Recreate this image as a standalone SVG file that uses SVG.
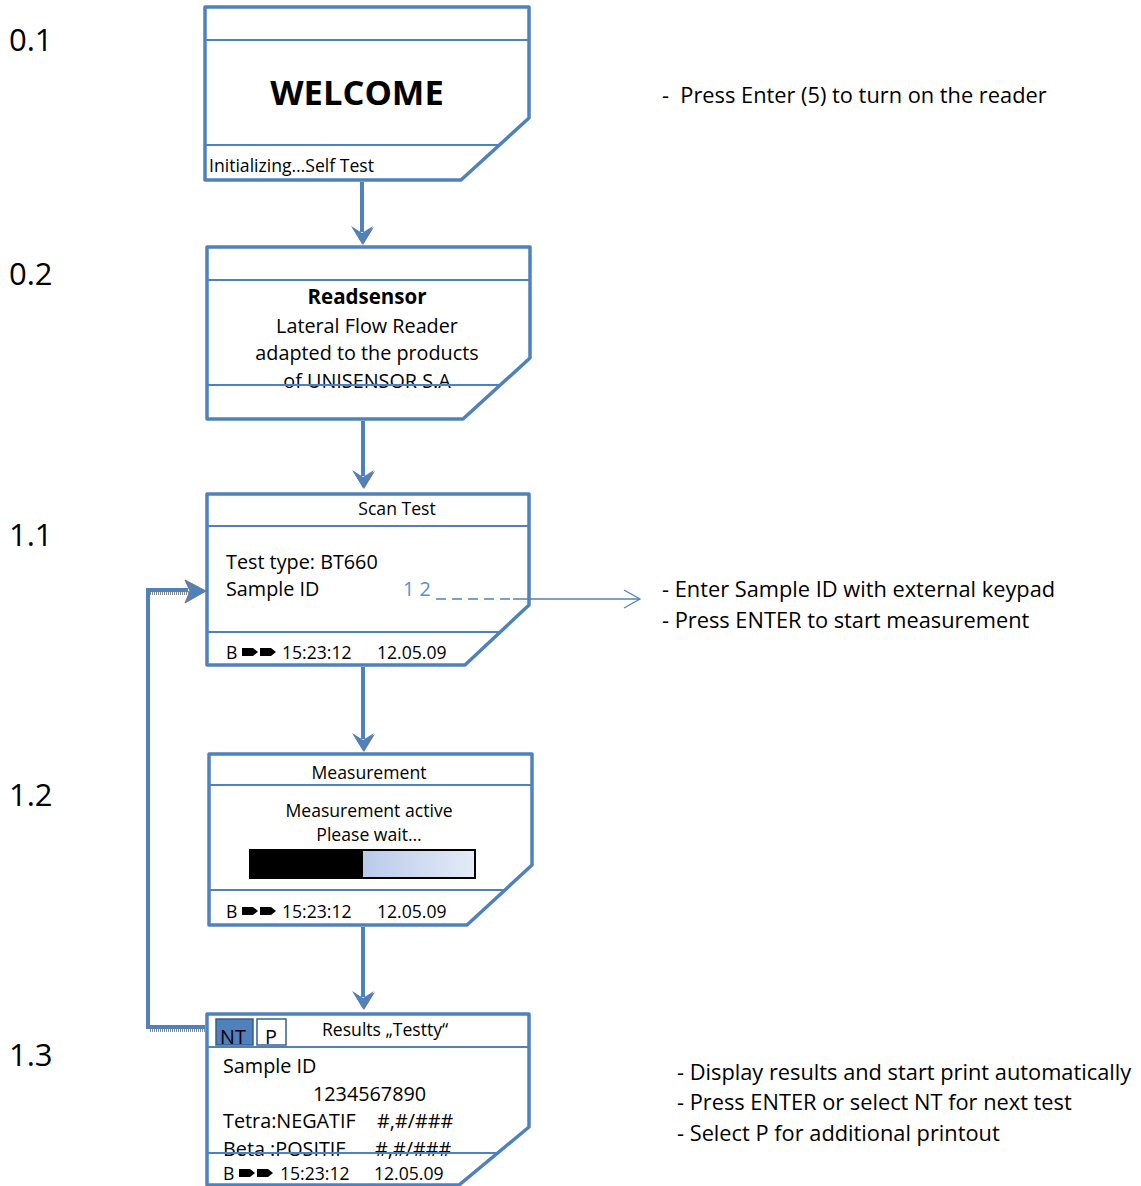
<svg xmlns="http://www.w3.org/2000/svg" width="1141" height="1186" viewBox="0 0 1141 1186">
<defs>
<linearGradient id="bar" x1="0" y1="0" x2="1" y2="0">
<stop offset="0" stop-color="#b9cbeb"/>
<stop offset="1" stop-color="#e4ebf7"/>
</linearGradient>
<polygon id="tag" points="0,0 11,0 16,4 11,8 0,8"/>
<g id="downhead">
<polygon points="1,1 -10,-17 1,-10 12,-17" fill="#777"/>
<polygon points="0,0 -11,-18 0,-11 11,-18" fill="#4f81bd"/>
</g>
</defs>
<style>
text{font-family:"Open Sans","Liberation Sans",sans-serif;fill:#000}
.frame{fill:#fff;stroke:#4f81bd;stroke-width:3.5;stroke-linejoin:round}
.div{stroke:#4f81bd;stroke-width:2;fill:none}
.lbl{font-size:31px}
.note{font-size:21.8px}
.t19{font-size:19.8px}
.t17{font-size:17.6px}
.conn{stroke:#4f81bd;stroke-width:4;fill:none}
.shadow{stroke:#888;stroke-width:4;fill:none;stroke-dasharray:1 1}
</style>

<g id="step-labels">
<text class="lbl" x="9" y="51">0.1</text>
<text class="lbl" x="9" y="285">0.2</text>
<text class="lbl" x="9" y="546">1.1</text>
<text class="lbl" x="9" y="806">1.2</text>
<text class="lbl" x="9" y="1066">1.3</text>
</g>

<g id="node-0-1">
<path class="frame" d="M205,7 H529 V118 L461,180 H205 Z"/>
<line class="div" x1="205" y1="40" x2="529" y2="40"/>
<line class="div" x1="205" y1="145" x2="499" y2="145"/>
<text x="357" y="105" font-size="34.5" font-weight="bold" text-anchor="middle">WELCOME</text>
<text class="t17" x="209" y="172">Initializing…Self Test</text>
</g>

<g id="node-0-2">
<path class="frame" d="M207,247 H530 V358 L463,419 H207 Z"/>
<line class="div" x1="207" y1="280" x2="530" y2="280"/>
<text x="367" y="304" font-size="20.5" text-anchor="middle" font-weight="bold">Readsensor</text>
<text class="t19" x="367" y="333" text-anchor="middle">Lateral Flow Reader</text>
<text class="t19" x="367" y="360" text-anchor="middle">adapted to the products</text>
<text class="t19" x="367" y="388" text-anchor="middle">of UNISENSOR S.A</text>
<line class="div" x1="207" y1="385" x2="500" y2="385"/>
</g>

<g id="node-1-1">
<path class="frame" d="M207,494 H529 V605 L465,665 H207 Z"/>
<line class="div" x1="207" y1="526" x2="529" y2="526"/>
<line class="div" x1="207" y1="632" x2="500" y2="632"/>
<text class="t17" x="397" y="515" text-anchor="middle">Scan Test</text>
<text class="t19" x="226" y="569">Test type: BT660</text>
<text class="t19" x="226" y="596">Sample ID</text>
<text class="t19" x="403" y="596" style="fill:#5b8ed6">1 2</text>
<text class="t17" x="226" y="659">B</text>
<use href="#tag" x="242" y="648"/>
<use href="#tag" x="260" y="648"/>
<text class="t17" x="282" y="659">15:23:12</text>
<text class="t17" x="377" y="659">12.05.09</text>
</g>

<g id="node-1-2">
<path class="frame" d="M209,754 H532 V865 L467,925 H209 Z"/>
<line class="div" x1="209" y1="785" x2="532" y2="785"/>
<line class="div" x1="209" y1="890" x2="505" y2="890"/>
<text class="t17" x="369" y="779" text-anchor="middle">Measurement</text>
<text class="t17" x="369" y="817" text-anchor="middle">Measurement active</text>
<text class="t17" x="369" y="841" text-anchor="middle">Please wait…</text>
<rect x="363" y="850" width="112" height="28" fill="url(#bar)"/>
<rect x="250" y="850" width="113" height="28" fill="#000"/>
<rect x="250" y="850" width="225" height="28" fill="none" stroke="#000" stroke-width="2"/>
<text class="t17" x="226" y="918">B</text>
<use href="#tag" x="242" y="907"/>
<use href="#tag" x="260" y="907"/>
<text class="t17" x="282" y="918">15:23:12</text>
<text class="t17" x="377" y="918">12.05.09</text>
</g>

<g id="node-1-3">
<path class="frame" d="M207,1014 H529 V1127 L459,1185 H207 Z"/>
<line class="div" x1="207" y1="1047" x2="529" y2="1047"/>
<rect x="216" y="1019" width="37" height="26" fill="#4f81bd" stroke="#385d8a" stroke-width="1.5"/>
<rect x="257" y="1019" width="29" height="26" fill="#fff" stroke="#385d8a" stroke-width="1.5"/>
<text class="t19" x="220" y="1044">NT</text>
<text class="t19" x="265" y="1044">P</text>
<text class="t17" x="322" y="1036">Results „Testty“</text>
<text class="t19" x="223" y="1073">Sample ID</text>
<text class="t19" x="313" y="1101">1234567890</text>
<text class="t19" x="223" y="1128">Tetra:NEGATIF</text>
<text class="t19" x="377" y="1128">#,#/###</text>
<text class="t19" x="223" y="1156">Beta :POSITIF</text>
<text class="t19" x="375" y="1156">#,#/###</text>
<line class="div" x1="207" y1="1153" x2="498" y2="1153"/>
<text class="t17" x="223" y="1180">B</text>
<use href="#tag" x="239" y="1169"/>
<use href="#tag" x="257" y="1169"/>
<text class="t17" x="280" y="1180">15:23:12</text>
<text class="t17" x="374" y="1180">12.05.09</text>
</g>

<g id="connectors">
<line class="conn" x1="362" y1="182" x2="362" y2="232"/>
<use href="#downhead" x="362" y="244"/>
<line class="conn" x1="363" y1="421" x2="363" y2="476"/>
<use href="#downhead" x="363" y="488"/>
<line class="conn" x1="363" y1="667" x2="363" y2="739"/>
<use href="#downhead" x="363" y="751"/>
<line class="conn" x1="363" y1="927" x2="363" y2="997"/>
<use href="#downhead" x="363" y="1009"/>
<polyline class="shadow" points="205,1030 150,1030"/>
<polyline class="shadow" points="150,593 190,593"/>
<polyline class="conn" points="205,1027 148,1027 148,590 188,590"/>
<polygon points="206,591 185,580 190,591 185,603" fill="#4f81bd" stroke="#777" stroke-width="1"/>
<line x1="436" y1="599" x2="513" y2="599" stroke="#4f81bd" stroke-width="1.3" stroke-dasharray="10 6"/>
<line x1="513" y1="599" x2="640" y2="599" stroke="#4f81bd" stroke-width="1.3"/>
<polyline points="624,590 640,599 624,608" fill="none" stroke="#4f81bd" stroke-width="1.3"/>
</g>

<g id="notes">
<text class="note" x="662" y="103">-&#160; Press Enter (5) to turn on the reader</text>
<text class="note" x="662" y="597">- Enter Sample ID with external keypad</text>
<text class="note" x="662" y="628">- Press ENTER to start measurement</text>
<text class="note" x="677" y="1080">- Display results and start print automatically</text>
<text class="note" x="677" y="1110">- Press ENTER or select NT for next test</text>
<text class="note" x="677" y="1141">- Select P for additional printout</text>
</g>
</svg>
